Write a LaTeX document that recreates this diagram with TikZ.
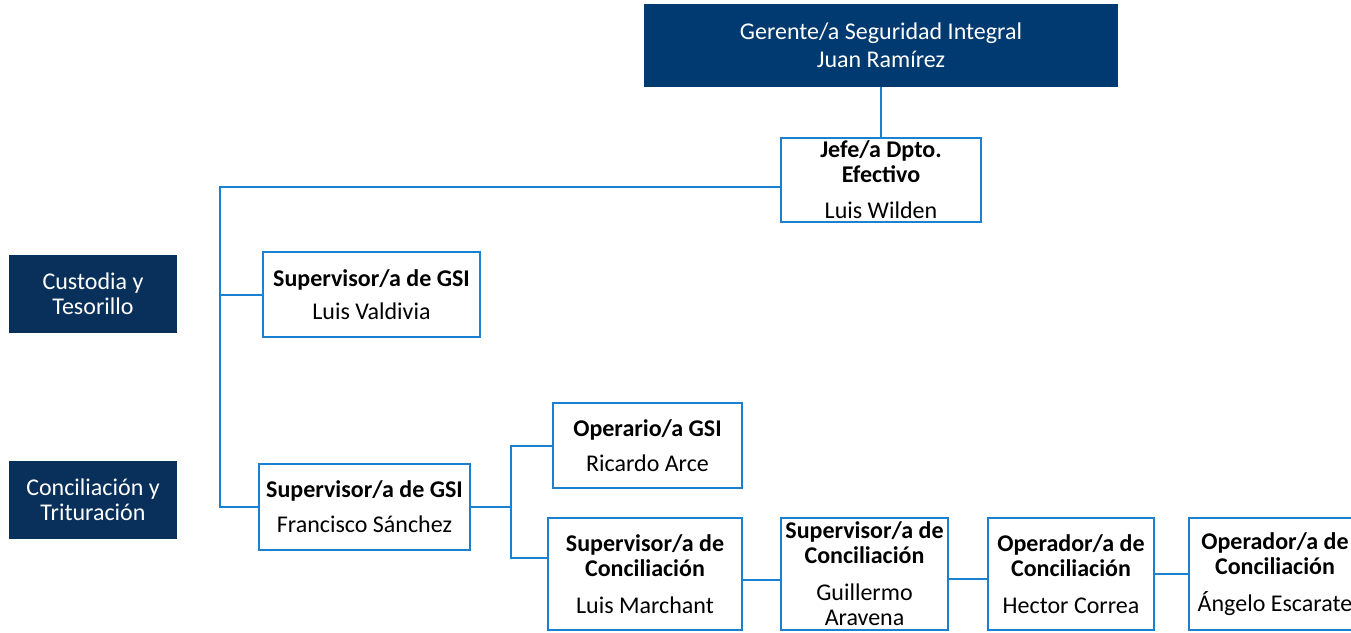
\documentclass[tikz,border=0pt]{standalone}
\usepackage{fontspec}
\setmainfont{Carlito}
\usepackage{tikz}
\usetikzlibrary{positioning}
\definecolor{navy}{RGB}{0,58,112}
\definecolor{deepnavy}{RGB}{9,48,90}
\definecolor{lineblue}{RGB}{28,128,208}
\begin{document}
\begin{tikzpicture}[x=1pt,y=-1pt,
  every node/.style={font=\fontsize{24}{25}\selectfont,align=center,inner sep=0pt},
  head node/.style={rectangle,fill=navy,text=white,font=\fontsize{24}{28}\selectfont},
  area node/.style={rectangle,fill=deepnavy,text=white,minimum width=168,minimum height=78},
  main node/.style={rectangle,draw=lineblue,line width=2.2pt,fill=white},
  conn/.style={draw=lineblue,line width=2pt}]

  \useasboundingbox (0,0) rectangle (1351,632);

  % top of the chart
  \node[head node, minimum width=474, minimum height=83] (gerente) at (881,45.5)
    {Gerente/a Seguridad Integral\\Juan Ramírez};
  \node[main node, minimum width=200, minimum height=84] (jefe) at (881,180)
    {\textbf{Jefe/a Dpto.}\\\textbf{Efectivo}\\[11pt]Luis Wilden};

  % areas
  \node[area node] (custodia) at (93,294) {Custodia y\\Tesorillo};
  \node[area node] (conciliacion) at (93,500) {Conciliación y\\Trituración};

  % supervisors
  \node[main node, minimum width=217, minimum height=85] (supA) at (371.5,294.5)
    {\textbf{Supervisor/a de GSI}\\[8pt]Luis Valdivia};
  \node[main node, minimum width=211, minimum height=86] (supB) at (364.5,507)
    {\textbf{Supervisor/a de GSI}\\[10pt]Francisco Sánchez};

  \node[main node, minimum width=189, minimum height=85] (operario) at (647.5,445.5)
    {\textbf{Operario/a GSI}\\[10pt]Ricardo Arce};
  \node[main node, minimum width=194, minimum height=112] (marchant) at (645,574)
    {\textbf{Supervisor/a de}\\\textbf{Conciliación}\\[12pt]Luis Marchant};
  \node[main node, minimum width=167, minimum height=112] (aravena) at (864.5,574)
    {\textbf{Supervisor/a de}\\\textbf{Conciliación}\\[12pt]Guillermo\\Aravena};
  \node[main node, minimum width=166, minimum height=112] (correa) at (1071,574)
    {\textbf{Operador/a de}\\\textbf{Conciliación}\\[12pt]Hector Correa};
  \node[main node, minimum width=172, minimum height=112] (escarate) at (1275,574)
    {\textbf{Operador/a de}\\\textbf{Conciliación}\\[12pt]Ángelo Escarate};

  \coordinate (trunk) at (220,187);
  \coordinate (split) at (511,507);

  \draw[conn] (gerente) -- (jefe);
  \draw[conn] ([yshift=-7pt]jefe.west) -- (trunk) |- (supA.west);
  \draw[conn] (trunk) |- (supB.west);
  \draw[conn] (supB.east) -- (split) |- (operario.west);
  \draw[conn] (split) |- ([yshift=16pt]marchant.west);
  \draw[conn] ([yshift=-6pt]marchant.east) -- ([yshift=-6pt]aravena.west);
  \draw[conn] ([yshift=-5pt]aravena.east) -- ([yshift=-5pt]correa.west);
  \draw[conn] (correa.east) -- (escarate.west);

\end{tikzpicture}
\end{document}
